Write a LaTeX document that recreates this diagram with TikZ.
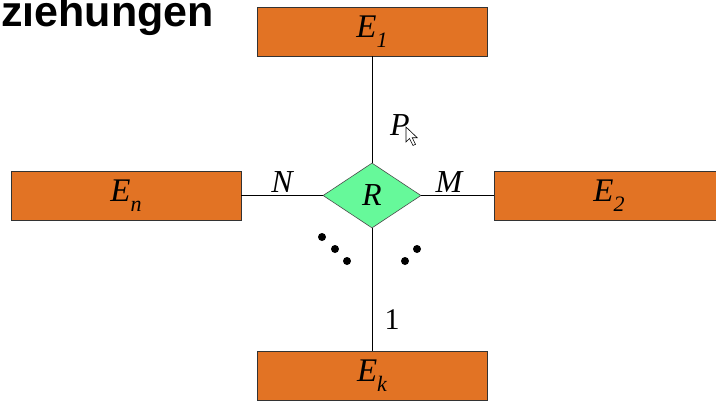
\documentclass[tikz,border=0pt]{standalone}
\usepackage{fontspec}
\setmainfont{Liberation Serif}
\newfontfamily\titlefont{Liberation Sans}
\usetikzlibrary{shapes.geometric}
\definecolor{entorange}{HTML}{E27324}
\definecolor{relgreen}{HTML}{66F99A}
\newcommand{\lowsub}[1]{\raisebox{-0.3em}{\fontsize{22}{24}\selectfont #1}}
\begin{document}
\begin{tikzpicture}[x=1pt,y=-1pt,
  entity/.style={draw=black!80, fill=entorange, line width=0.8pt, minimum width=230pt, minimum height=49pt, inner sep=0pt, font=\fontsize{33}{36}\selectfont\itshape},
  rel/.style={draw=black!70, fill=relgreen, diamond, aspect=1.5, minimum width=98pt, minimum height=65pt, inner sep=0pt, line width=0.6pt, font=\fontsize{32}{34}\selectfont\itshape},
  conn/.style={draw=black, line width=0.7pt},
  card/.style={font=\fontsize{32}{34}\selectfont\itshape, inner sep=0pt},
  dot/.style={fill=black, circle, minimum size=8pt, inner sep=0pt}]
\useasboundingbox (0,0) rectangle (716,400);
\node[anchor=base west, inner sep=0pt, font=\titlefont\fontsize{43}{46}\selectfont\bfseries] (title) at (1,26) {ziehungen};
\node[entity] (e1) at (372,31.5) {E\lowsub{1}};
\node[entity] (en) at (126,195.5) {E\lowsub{n}};
\node[entity] (e2) at (609,195.5) {E\lowsub{2}};
\node[entity] (ek) at (372,376) {E\lowsub{k}};
\node[rel] (r) at (372,195.5) {R};
\draw[conn] (e1.south) -- (r.north);
\draw[conn] (r.south) -- (ek.north);
\draw[conn] (en.east) -- (r.west);
\draw[conn] (r.east) -- (e2.west);
\node[card] (lp) at (400,125) {P};
\node[card] (ln) at (282,182) {N};
\node[card] (lm) at (449,182) {M};
\node[card, font=\fontsize{30}{32}\selectfont] (l1) at (392,320) {1};
\node[dot] (d1) at (322,237) {};
\node[dot] (d2) at (335,249) {};
\node[dot] (d3) at (347,261) {};
\node[dot] (d4) at (417,249) {};
\node[dot] (d5) at (405,261) {};
\draw[fill=white, draw=black, line width=0.6pt, line join=miter] (406,127) -- ++(0,15) -- ++(3.5,-3.5) -- ++(3.5,7) -- ++(2.5,-1.2) -- ++(-3.3,-6.6) -- ++(5,0) -- cycle;
\end{tikzpicture}
\end{document}
